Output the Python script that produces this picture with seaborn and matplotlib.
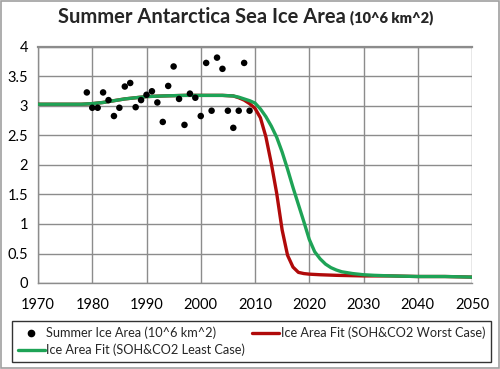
import numpy as np
import pandas as pd
import matplotlib
matplotlib.use("Agg")
import matplotlib.pyplot as plt
import seaborn as sns
from matplotlib.lines import Line2D
from matplotlib.patches import Rectangle

# ---- data ----
obs_years = [1979, 1980, 1981, 1982, 1983, 1984, 1985, 1986, 1987, 1988,
             1989, 1990, 1991, 1992, 1993, 1994, 1995, 1996, 1997, 1998,
             1999, 2000, 2001, 2002, 2003, 2004, 2005, 2006, 2007, 2008, 2009]
obs_area = [3.23, 2.97, 2.97, 3.23, 3.10, 2.83, 2.97, 3.33, 3.39, 2.98,
            3.10, 3.19, 3.25, 3.06, 2.73, 3.34, 3.67, 3.12, 2.68, 3.21,
            3.14, 2.83, 3.73, 2.92, 3.82, 3.63, 2.92, 2.63, 2.92, 3.73, 2.92]

least_years = [1970, 1975, 1978, 1980, 1982, 1984, 1986, 1988, 1990, 1993,
               1997, 2000, 2004, 2006, 2007, 2008, 2009, 2010, 2011, 2012,
               2013, 2014, 2015, 2016, 2017, 2018, 2019, 2020, 2021, 2022,
               2023, 2024, 2025, 2026, 2028, 2030, 2032, 2035, 2040, 2045, 2050]
least_area = [3.03, 3.03, 3.03, 3.04, 3.06, 3.09, 3.12, 3.14, 3.16, 3.17,
              3.18, 3.18, 3.18, 3.17, 3.15, 3.12, 3.09, 3.05, 2.95, 2.82,
              2.66, 2.47, 2.22, 1.93, 1.62, 1.33, 1.04, 0.74, 0.53, 0.41,
              0.32, 0.26, 0.22, 0.19, 0.16, 0.14, 0.13, 0.12, 0.11, 0.11, 0.10]

worst_years = [1970, 1975, 1978, 1980, 1982, 1984, 1986, 1988, 1990, 1993,
               1997, 2000, 2004, 2006, 2007, 2008, 2009, 2010, 2011, 2012,
               2013, 2014, 2015, 2016, 2017, 2018, 2019, 2020, 2022, 2025,
               2030, 2035, 2040, 2045, 2050]
worst_area = [3.03, 3.03, 3.03, 3.04, 3.06, 3.09, 3.12, 3.14, 3.16, 3.17,
              3.18, 3.18, 3.18, 3.17, 3.14, 3.10, 3.04, 2.96, 2.80, 2.48,
              2.03, 1.52, 0.90, 0.47, 0.27, 0.18, 0.16, 0.15, 0.14, 0.13,
              0.12, 0.12, 0.11, 0.11, 0.10]

x_ticks = [1970, 1980, 1990, 2000, 2010, 2020, 2030, 2040, 2050]
y_ticks = [0, 0.5, 1, 1.5, 2, 2.5, 3, 3.5, 4]
y_tick_labels = ["0", "0.5", "1", "1.5", "2", "2.5", "3", "3.5", "4"]

title_main = "Summer Antarctica Sea Ice Area"
title_unit = "(10^6 km^2)"
lbl_obs = "Summer Ice Area (10^6 km^2)"
lbl_worst = "Ice Area Fit (SOH&CO2 Worst Case)"
lbl_least = "Ice Area Fit (SOH&CO2 Least Case)"

# ---- style ----
sns.set_style("white")
plt.rcParams['font.family'] = ['Lato', 'DejaVu Sans']

RED = "#b00a0a"
GREEN = "#1ea356"
GRID = "#8c8c8c"

fig = plt.figure(figsize=(5.0, 3.69), dpi=100)
ax = fig.add_axes([38/500, 1-283/369, (472-38)/500, (283-47)/369])

df_obs = pd.DataFrame({"year": obs_years, "area": obs_area})
df_least = pd.DataFrame({"year": least_years, "area": least_area})
df_worst = pd.DataFrame({"year": worst_years, "area": worst_area})

sns.lineplot(data=df_worst, x="year", y="area", ax=ax, color=RED, lw=2.4,
             zorder=3, legend=False)
sns.lineplot(data=df_least, x="year", y="area", ax=ax, color=GREEN, lw=2.4,
             zorder=4, legend=False)
sns.scatterplot(data=df_obs, x="year", y="area", ax=ax, color="black", s=22,
                edgecolor="none", zorder=5, legend=False)

ax.set_xlim(1970, 2050)
ax.set_ylim(0, 4)
ax.set_xticks(x_ticks)
ax.set_xticklabels([str(t) for t in x_ticks], fontsize=10.5)
ax.set_yticks(y_ticks)
ax.set_yticklabels(y_tick_labels, fontsize=10.5)
ax.set_xlabel("")
ax.set_ylabel("")
ax.grid(True, color=GRID, lw=1.0)
ax.set_axisbelow(True)
for side in ["left", "bottom"]:
    ax.spines[side].set_color(GRID)
    ax.spines[side].set_linewidth(1.0)
ax.spines["right"].set_visible(False)
ax.spines["top"].set_color(GRID)
ax.spines["top"].set_linewidth(1.6)
ax.tick_params(axis="both", which="both", direction="out", length=4,
               color=GRID, width=1.0, pad=3, labelcolor="black")
ax.tick_params(axis="x", pad=7)

# title
fig.text(58/500, 1-17/369, title_main, fontsize=14.5, fontweight="bold",
         ha="left", va="center")
fig.text(350/500, 1-18/369, title_unit, fontsize=10.5, fontweight="heavy",
         ha="left", va="center")

# legend
handles = [
    Line2D([], [], marker="o", color="black", ls="none", markersize=4.5),
    Line2D([], [], color=GREEN, lw=2.4),
    Line2D([], [], color=RED, lw=2.4),
]
labels = [lbl_obs, lbl_least, lbl_worst]
leg = fig.legend(handles, labels, ncol=2, loc="upper left",
                 bbox_to_anchor=(12/500, 1-321/369),
                 fontsize=9.2, frameon=True, fancybox=False,
                 edgecolor="black", handlelength=2.1, handletextpad=0.15,
                 borderpad=0.45, labelspacing=0.35, columnspacing=0.5,
                 borderaxespad=0)
leg.get_frame().set_linewidth(1.0)

# outer border
fig.patches.append(Rectangle((0.002, 0.002), 0.996, 0.995,
                             transform=fig.transFigure, fill=False,
                             edgecolor="#a0a0a0", lw=1.2))

fig.savefig("out.png", dpi=100, facecolor="white")
